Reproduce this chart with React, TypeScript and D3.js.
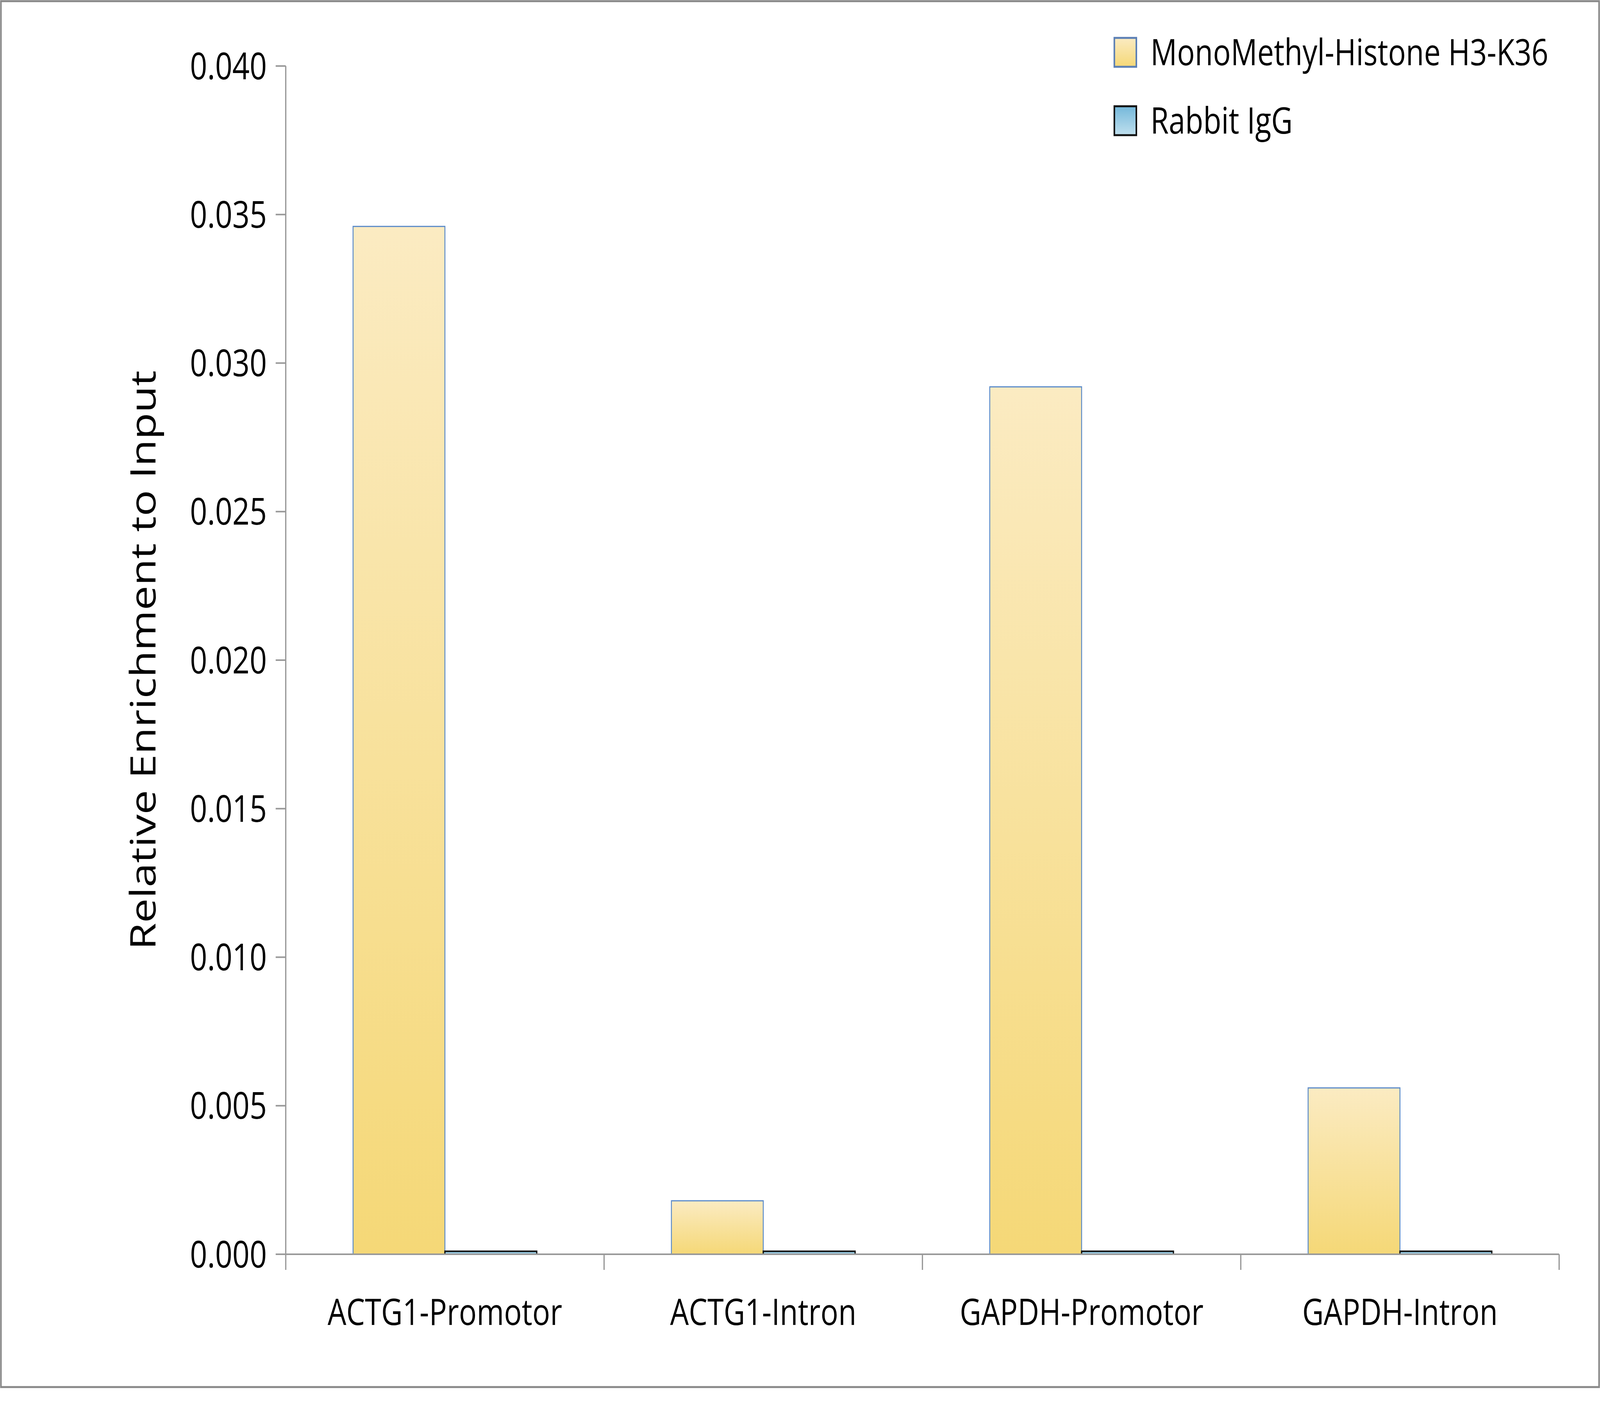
import React from "react";
import * as d3 from "d3";

const categories = ["ACTG1-Promotor", "ACTG1-Intron", "GAPDH-Promotor", "GAPDH-Intron"];
const seriesNames = ["MonoMethyl-Histone H3-K36", "Rabbit IgG"];
const h3k36 = [0.0346, 0.0018, 0.0292, 0.0056];
const igg = [0.0001, 0.0001, 0.0001, 0.0001];
const yTicks = [0, 0.005, 0.01, 0.015, 0.02, 0.025, 0.03, 0.035, 0.04];

const W = 5090, H = 3643;
const L = 909, R = 4960, T = 169, B = 3211;
const font = "'Open Sans', 'Liberation Sans', sans-serif";

export default function App() {
  const x = d3.scaleBand<string>().domain(categories).range([L, R]);
  const y = d3.scaleLinear().domain([0, 0.04]).range([B, T]);
  const bw = x.bandwidth() * 0.2885;
  return (
    <svg viewBox={`0 0 ${W} ${H}`} preserveAspectRatio="none"
      style={{ position: "fixed", left: 0, top: 0, width: "100vw", height: "100vh", display: "block" }}>
      <defs>
        <linearGradient id="go" x1="0" y1="0" x2="0" y2="1">
          <stop offset="0" stopColor="#FBEBC2" />
          <stop offset="1" stopColor="#F5D877" />
        </linearGradient>
        <linearGradient id="gb" x1="0" y1="0" x2="0" y2="1">
          <stop offset="0" stopColor="#74B8DA" />
          <stop offset="1" stopColor="#C0E0EE" />
        </linearGradient>
      </defs>
      <rect x={0} y={0} width={W} height={H} fill="white" />
      <rect x={3} y={3} width={W - 6} height={3548} fill="none" stroke="#888" strokeWidth={5} />
      <line x1={L} x2={L} y1={T} y2={B} stroke="#999" strokeWidth={4} />
      {yTicks.map((t) => (
        <g key={t}>
          <line x1={L - 32} x2={L} y1={y(t)} y2={y(t)} stroke="#999" strokeWidth={4} />
          <text x={L - 60} y={y(t)} dy="0.35em" textAnchor="end" fontFamily={font} fontSize={96}>
            {d3.format(".3f")(t)}
          </text>
        </g>
      ))}
      <text transform={`translate(455,${(T + B) / 2}) rotate(-90)`} textAnchor="middle" dy="0.35em" fontFamily={font} fontSize={112}>
        Relative Enrichment to Input
      </text>
      {categories.map((c, i) => {
        const cx = x(c)! + x.bandwidth() / 2;
        return (
          <g key={c}>
            <rect x={cx - bw} y={y(h3k36[i])} width={bw} height={B - y(h3k36[i])} fill="url(#go)" stroke="#5B8BC9" strokeWidth={3} />
            <rect x={cx} y={y(igg[i])} width={bw} height={B - y(igg[i])} fill="url(#gb)" stroke="#111" strokeWidth={4} />
            <text x={cx} y={3392} textAnchor="middle" fontFamily={font} fontSize={94}>{c}</text>
          </g>
        );
      })}
      <line x1={L} x2={R} y1={B} y2={B} stroke="#999" strokeWidth={4} />
      {[...categories.map((c) => x(c)!), R].map((v, i) => (
        <line key={i} x1={v} x2={v} y1={B} y2={B + 40} stroke="#999" strokeWidth={4} />
      ))}
      {seriesNames.map((s, i) => (
        <g key={s}>
          <rect x={3545} y={97 + i * 175} width={70} height={74} fill={i === 0 ? "url(#go)" : "url(#gb)"} stroke={i === 0 ? "#5B7FB5" : "#111"} strokeWidth={5} />
          <text x={3660} y={134 + i * 175} dy="0.35em" fontFamily={font} fontSize={94}>{s}</text>
        </g>
      ))}
    </svg>
  );
}
